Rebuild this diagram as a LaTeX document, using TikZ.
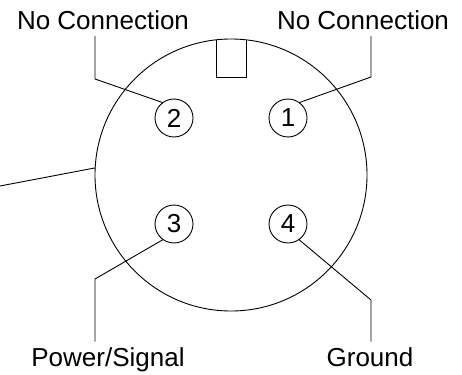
\documentclass[tikz,border=0pt]{standalone}
\usepackage{fontspec}
\setmainfont{Liberation Sans}
\tikzset{
    shell/.style={circle, draw, minimum size=272pt, inner sep=0pt, outer sep=0pt},
    pin/.style={circle, draw, minimum size=38pt, inner sep=0pt, outer sep=0pt, font=\fontsize{26}{30}\selectfont},
    pinlabel/.style={anchor=base, text height=18.5pt, inner xsep=0pt, inner ysep=5.5pt, font=\fontsize{26}{30}\selectfont},
}

\begin{document}
\begin{tikzpicture}[x=1pt, y=-1pt, line width=0.9pt]
    \useasboundingbox (0,0) rectangle (462,374);

    \node (housing) [shell] at (231,175) {};
    \draw (216,39.8) -- (216,77) -- (246,77) -- (246,39.8);

    \node (pin1) [pin] at (288,118) {1};
    \node (pin2) [pin] at (174,118) {2};
    \node (pin3) [pin] at (174,224) {3};
    \node (pin4) [pin] at (288,224) {4};

    \node (label1) [pinlabel] at (363,30) {No Connection};
    \node (label2) [pinlabel] at (103,30) {No Connection};
    \node (label3) [pinlabel] at (108,366) {Power/Signal};
    \node (label4) [pinlabel] at (370,366) {Ground};

    \coordinate (bend1) at (371,77);
    \coordinate (bend2) at (95,79);
    \coordinate (bend3) at (95,279);
    \coordinate (bend4) at (371,300);
    \coordinate (cable) at (0,186);

    \draw (pin1.54) -- (bend1) -- (bend1 |- label1.south);
    \draw (pin2.126) -- (bend2) -- (bend2 |- label2.south);
    \draw (pin3.235) -- (bend3) -- (bend3 |- label3.north);
    \draw (pin4.-55) -- (bend4) -- (bend4 |- label4.north);
    \draw (cable) -- (housing.177.5);
\end{tikzpicture}
\end{document}
